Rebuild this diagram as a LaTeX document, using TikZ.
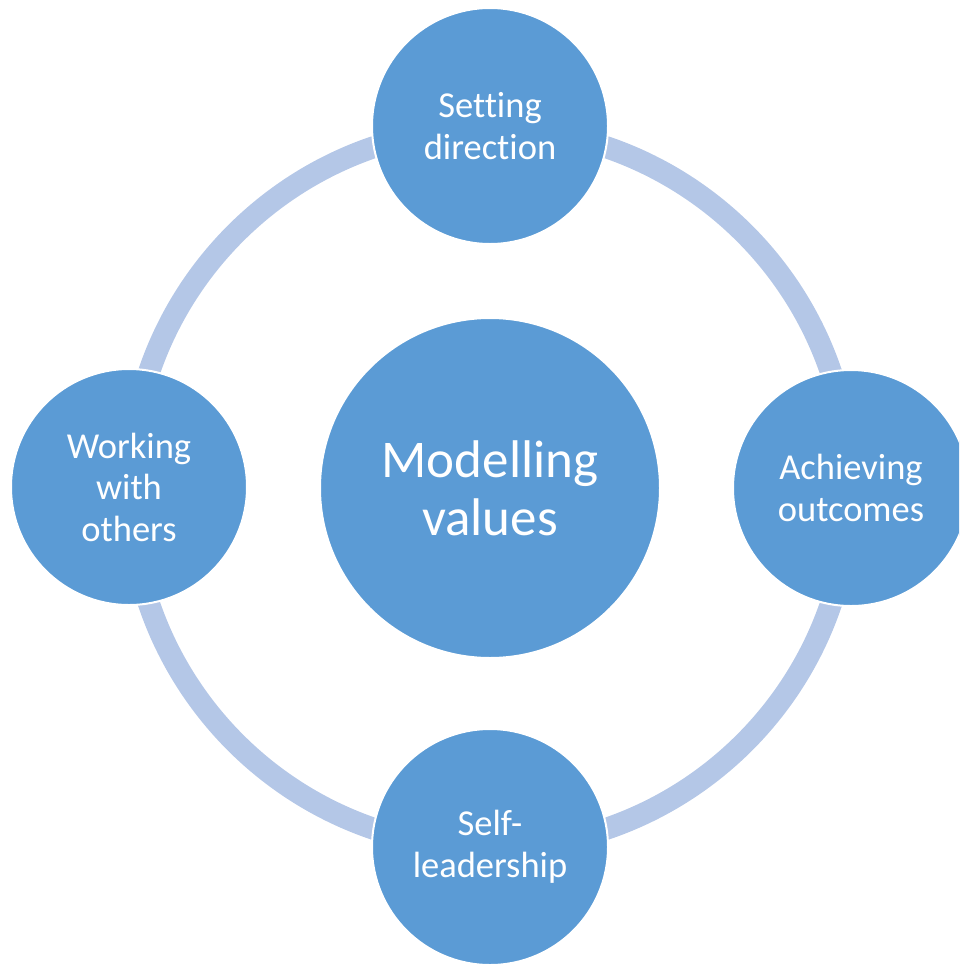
\documentclass[tikz,border=0pt]{standalone}
\usepackage{fontspec}
\setmainfont{Carlito}[Ligatures={NoCommon}]
\definecolor{bub}{HTML}{5B9BD5}
\definecolor{ringc}{HTML}{B4C7E7}
\begin{document}
\begin{tikzpicture}[x=1pt,y=-1pt,
  bubble/.style={circle,fill=bub,draw=white,line width=2pt,inner sep=0pt,
    minimum size=236pt,text=white,align=center,
    font=\fontsize{36.5}{41.5}\selectfont},
  hub/.style={bubble,minimum size=340pt,font=\fontsize{53}{58}\selectfont}]
\useasboundingbox (0,0) rectangle (959,964);
\begin{scope}
\clip (0,0) rectangle (959,964);
\coordinate (c) at (490,488);
\draw[ringc,line width=22pt] (c) circle[radius=360];
\node[hub] (mv) at (c) {Modelling\\values};
\node[bubble] (sd) at (490,126) {Setting\\direction};
\node[bubble] (ao) at (851,488) {Achieving\\outcomes};
\node[bubble] (sl) at (490,847) {Self-\\leadership};
\node[bubble] (wo) at (129,487) {Working\\with\\others};
\end{scope}
\end{tikzpicture}
\end{document}
